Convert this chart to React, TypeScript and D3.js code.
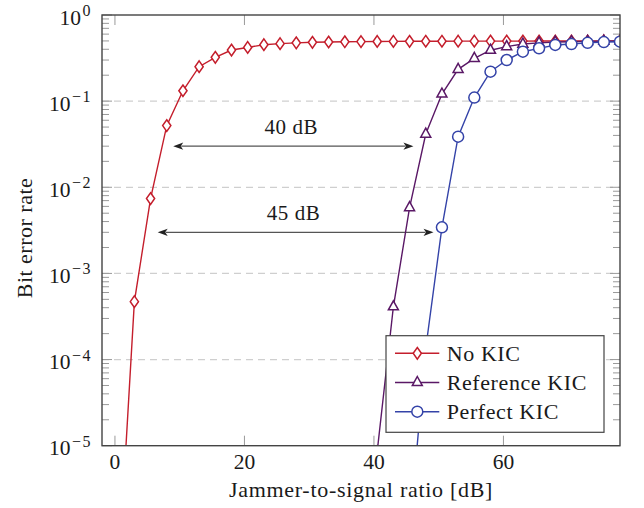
import * as d3 from "d3";

// jammer-to-signal ratio [dB], one sample every 2.5 dB
const jsr = [
  0.5, 3, 5.5, 8, 10.5, 13, 15.5, 18, 20.5, 23, 25.5, 28, 30.5, 33, 35.5, 38,
  40.5, 43, 45.5, 48, 50.5, 53, 55.5, 58, 60.5, 63, 65.5, 68, 70.5, 73, 75.5, 78,
];

const noKic = [
  2.8e-7, 4.7e-4, 7.4e-3, 0.052, 0.132, 0.251, 0.323, 0.392, 0.42, 0.452, 0.465,
  0.475, 0.482, 0.486, 0.489, 0.491, 0.493, 0.494, 0.495, 0.496, 0.496, 0.497,
  0.497, 0.498, 0.498, 0.498, 0.499, 0.499, 0.499, 0.499, 0.5, 0.5,
];

const refKic = [
  null, null, null, null, null, null, null, null, null, null, null, null, null,
  null, null, null, 8.5e-6, 4.1e-4, 5.8e-3, 0.0415, 0.121, 0.234, 0.314, 0.39,
  0.43, 0.46, 0.475, 0.485, 0.49, 0.494, 0.497, 0.499,
];

const perfKic = [
  null, null, null, null, null, null, null, null, null, null, null, null, null,
  null, null, null, null, null, 1e-6, 1.35e-4, 3.43e-3, 0.0387, 0.11, 0.22, 0.3,
  0.375, 0.41, 0.449, 0.46, 0.475, 0.485, 0.49,
];

const seriesNames = ["No KIC", "Reference KIC", "Perfect KIC"];
const xTicks = [0, 20, 40, 60];
const yExponents = [0, -1, -2, -3, -4, -5];

// arrows between the curves: [x from, x to, BER level, label]
const gaps: [number, number, number, string][] = [
  [9, 46.1, 3e-2, "40 dB"],
  [6.6, 49.2, 3e-3, "45 dB"],
];

const colors = ["#c41e2c", "#5a1866", "#3443a8"];
const font = "Liberation Serif, DejaVu Serif, serif";
const ink = "#1a1a1a";

const W = 644;
const H = 508;
const m = { left: 102, right: 620, top: 15, bottom: 445.7 };

const x = d3.scaleLinear().domain([-2, 78]).range([m.left, m.right]);
const y = d3.scaleLog().domain([1e-5, 1]).range([m.bottom, m.top]);

const Marker = ({ kind, color }: { kind: number; color: string }) => {
  const common = { fill: "white", stroke: color, strokeWidth: 1.5 };
  if (kind === 0) return <path d="M0,-5.8L4.1,0L0,5.8L-4.1,0Z" {...common} />;
  if (kind === 1) return <path d="M0,-6L5,3.1L-5,3.1Z" {...common} />;
  return <circle r={5.5} {...common} />;
};

export default function App() {
  const all = [noKic, refKic, perfKic].map((vals) =>
    jsr
      .map((j, i) => ({ j, v: vals[i] }))
      .filter((d) => d.v !== null) as { j: number; v: number }[]
  );
  const line = d3
    .line<{ j: number; v: number }>()
    .x((d) => x(d.j))
    .y((d) => y(d.v));

  const minors: number[] = [];
  for (let e = -5; e < 0; e++) {
    for (let k = 2; k <= 9; k++) minors.push(k * Math.pow(10, e));
  }

  const arrowHead = (tx: number, ty: number, dir: number) =>
    `M${tx},${ty}L${tx + dir * 10},${ty - 3.6}L${tx + dir * 7.5},${ty}L${tx + dir * 10},${ty + 3.6}Z`;

  return (
    <svg
      width={W}
      height={H}
      style={{ position: "absolute", left: 0, top: 0, background: "white", fontFamily: font }}
    >
      <defs>
        <clipPath id="plot">
          <rect x={m.left} y={m.top} width={m.right - m.left} height={m.bottom - m.top} />
        </clipPath>
      </defs>

      {/* grid */}
      {yExponents.slice(1, -1).map((e) => (
        <line
          key={e}
          x1={m.left}
          x2={m.right}
          y1={y(Math.pow(10, e))}
          y2={y(Math.pow(10, e))}
          stroke="#cfcfcf"
          strokeWidth={1.2}
          strokeDasharray="7 5"
        />
      ))}

      {/* ticks */}
      <g stroke="#9a9a9a" strokeWidth={1}>
        {minors.map((v) => (
          <g key={v}>
            <line x1={m.left} x2={m.left + 7} y1={y(v)} y2={y(v)} />
            <line x1={m.right} x2={m.right - 7} y1={y(v)} y2={y(v)} />
          </g>
        ))}
        {yExponents.map((e) => (
          <g key={e}>
            <line x1={m.left} x2={m.left + 10} y1={y(Math.pow(10, e))} y2={y(Math.pow(10, e))} />
            <line x1={m.right} x2={m.right - 10} y1={y(Math.pow(10, e))} y2={y(Math.pow(10, e))} />
          </g>
        ))}
        {xTicks.map((t) => (
          <g key={t}>
            <line x1={x(t)} x2={x(t)} y1={m.bottom} y2={m.bottom - 10} />
            <line x1={x(t)} x2={x(t)} y1={m.top} y2={m.top + 10} />
          </g>
        ))}
      </g>

      {/* arrows */}
      {gaps.map(([a, b, lvl, label]) => {
        const yy = y(lvl);
        return (
          <g key={label}>
            <line x1={x(a) + 8} x2={x(b) - 8} y1={yy} y2={yy} stroke="#555" strokeWidth={1.3} />
            <path d={arrowHead(x(a), yy, 1)} fill="#222" />
            <path d={arrowHead(x(b), yy, -1)} fill="#222" />
            <text
              x={(x(a) + x(b)) / 2 - 2}
              y={yy - 12.5}
              fontSize={21}
              textAnchor="middle"
              fill={ink}
              letterSpacing={0.6}
            >
              {label}
            </text>
          </g>
        );
      })}

      {/* series */}
      <g clipPath="url(#plot)">
        {all.map((pts, s) => (
          <g key={s}>
            <path d={line(pts) ?? ""} fill="none" stroke={colors[s]} strokeWidth={1.4} />
            {pts.map((p, i) => (
              <g key={i} transform={`translate(${x(p.j)},${y(p.v)})`}>
                <Marker kind={s} color={colors[s]} />
              </g>
            ))}
          </g>
        ))}
      </g>

      {/* frame */}
      <rect
        x={m.left}
        y={m.top}
        width={m.right - m.left}
        height={m.bottom - m.top}
        fill="none"
        stroke="#444"
        strokeWidth={1.4}
      />

      {/* tick labels */}
      {xTicks.map((t) => (
        <text key={t} x={x(t)} y={469} fontSize={21.5} textAnchor="middle" fill={ink}>
          {t}
        </text>
      ))}
      {yExponents.map((e) => (
        <text
          key={e}
          x={92}
          y={y(Math.pow(10, e)) + 9.5}
          fontSize={21.5}
          textAnchor="end"
          fill={ink}
        >
          10
          <tspan dx={1.5} dy={-8.5} fontSize={16} letterSpacing={1.5}>
            {e === 0 ? "0" : `\u2212${-e}`}
          </tspan>
        </text>
      ))}

      {/* axis labels */}
      <text
        x={(m.left + m.right) / 2}
        y={497}
        fontSize={22}
        textAnchor="middle"
        fill={ink}
        letterSpacing={0.7}
      >
        Jammer-to-signal ratio [dB]
      </text>
      <text
        transform={`translate(32,238) rotate(-90)`}
        fontSize={22}
        textAnchor="middle"
        fill={ink}
        letterSpacing={0.5}
      >
        Bit error rate
      </text>

      {/* legend */}
      <g>
        <rect x={386} y={335.7} width={218} height={96.6} fill="white" stroke="#444" strokeWidth={1.2} />
        {seriesNames.map((name, i) => {
          const ry = 353.3 + i * 29.2;
          return (
            <g key={name}>
              <line x1={395} x2={439.3} y1={ry} y2={ry} stroke={colors[i]} strokeWidth={1.4} />
              <g transform={`translate(417.3,${ry})`}>
                <Marker kind={i} color={colors[i]} />
              </g>
              <text x={446.7} y={ry + 7.5} fontSize={22} fill={ink} letterSpacing={0.6}>
                {name}
              </text>
            </g>
          );
        })}
      </g>
    </svg>
  );
}
